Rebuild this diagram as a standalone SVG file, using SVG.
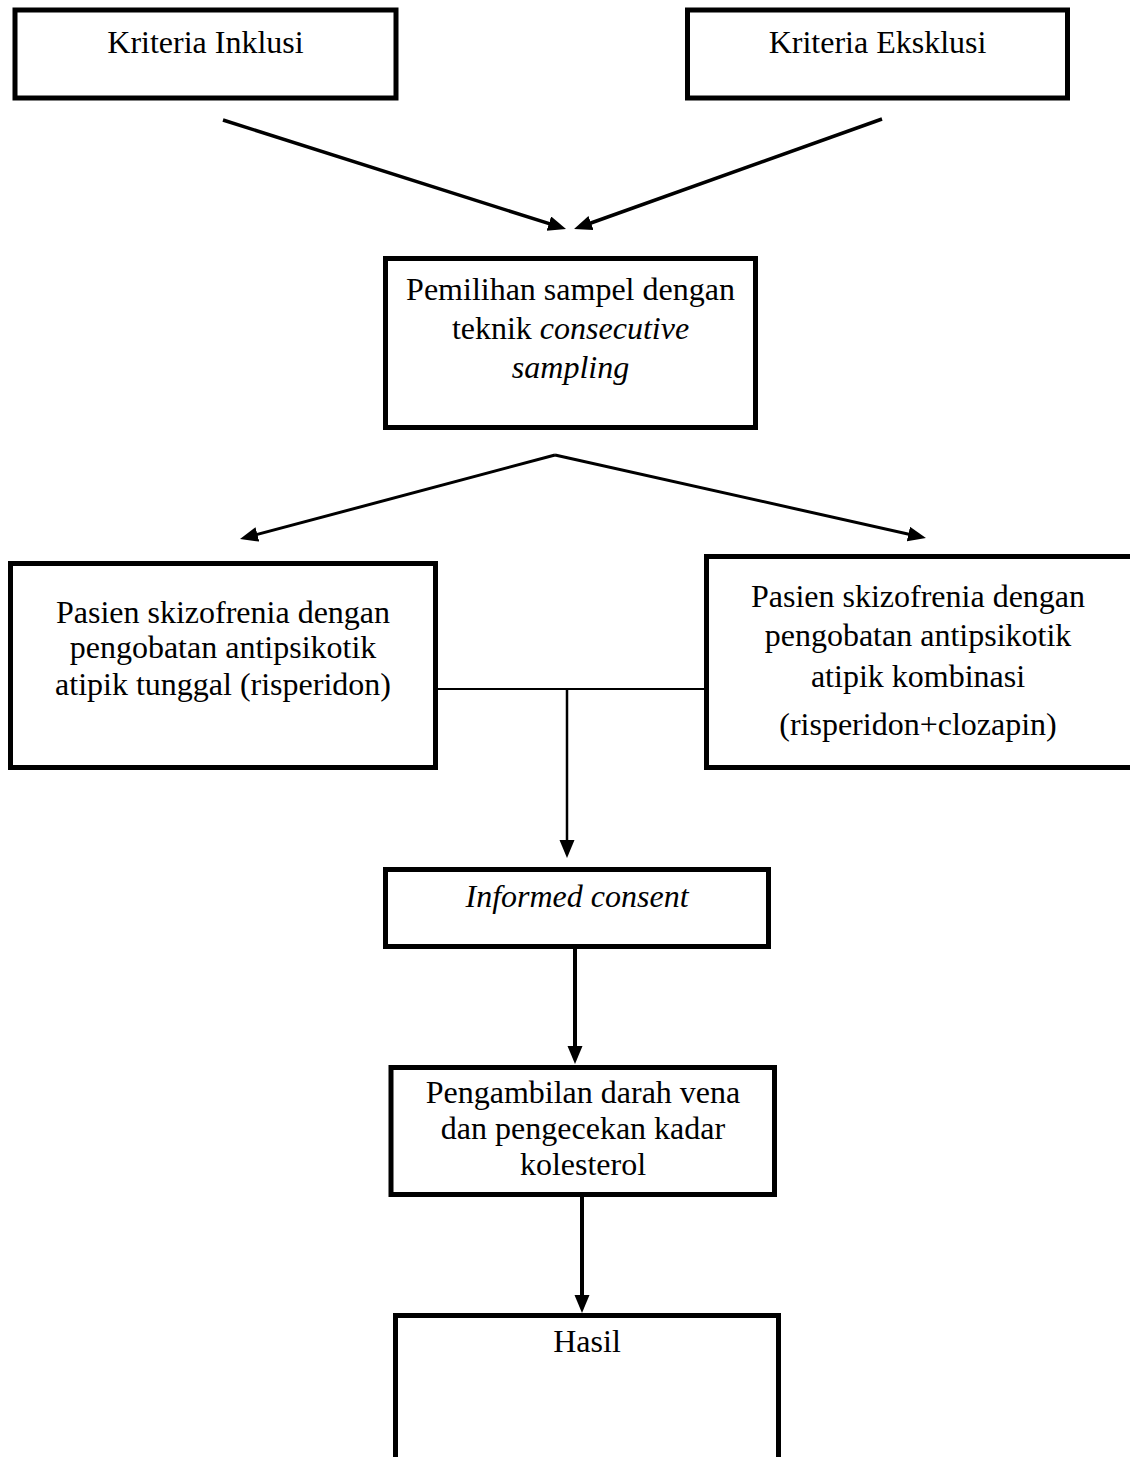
<svg xmlns="http://www.w3.org/2000/svg" width="1130" height="1457" viewBox="0 0 1130 1457">
<style>
.box{fill:#fff;stroke:#000;stroke-width:5}
.t{font-family:"Liberation Serif","Times New Roman",serif;font-size:32px;fill:#000;text-anchor:middle}
.i{font-style:italic}
.c{stroke:#000;fill:none;stroke-linecap:butt}
</style>
<defs>
<marker id="ah" markerUnits="userSpaceOnUse" markerWidth="20" markerHeight="16" refX="12" refY="7.5" orient="auto" viewBox="0 0 20 16">
<path d="M0,0 L18,7.5 L0,15 z" fill="#000"/>
</marker>
</defs>
<g id="connectors">
<line class="c" x1="223" y1="120" x2="560.3" y2="227.2" stroke-width="3.5" marker-end="url(#ah)"/>
<line class="c" x1="882" y1="119" x2="579.7" y2="227" stroke-width="3.5" marker-end="url(#ah)"/>
<line class="c" x1="555" y1="455" x2="245.8" y2="537.5" stroke-width="3" marker-end="url(#ah)"/>
<line class="c" x1="555" y1="455" x2="920.1" y2="536.7" stroke-width="3" marker-end="url(#ah)"/>
<line class="c" x1="438" y1="689" x2="704" y2="689" stroke-width="2"/>
<line class="c" x1="567" y1="689" x2="567" y2="852" stroke-width="2.5" marker-end="url(#ah)"/>
<line class="c" x1="575" y1="949" x2="575" y2="1058" stroke-width="4" marker-end="url(#ah)"/>
<line class="c" x1="582" y1="1197" x2="582" y2="1307" stroke-width="4" marker-end="url(#ah)"/>
</g>
<g id="inklusi">
<rect class="box" x="15" y="10" width="381" height="88"/>
<text class="t" x="205.5" y="53">Kriteria Inklusi</text>
</g>
<g id="eksklusi">
<rect class="box" x="687.5" y="10" width="380" height="88"/>
<text class="t" x="877.5" y="53">Kriteria Eksklusi</text>
</g>
<g id="pemilihan">
<rect class="box" x="385.5" y="258.5" width="370" height="169"/>
<text class="t" x="570.5" y="300">Pemilihan sampel dengan</text>
<text class="t" x="570.5" y="339">teknik <tspan class="i">consecutive</tspan></text>
<text class="t i" x="570.5" y="378">sampling</text>
</g>
<g id="tunggal">
<rect class="box" x="10.5" y="563.5" width="425" height="204"/>
<text class="t" x="223" y="623">Pasien skizofrenia dengan</text>
<text class="t" x="223" y="658">pengobatan antipsikotik</text>
<text class="t" x="223" y="695">atipik tunggal (risperidon)</text>
</g>
<g id="kombinasi">
<rect class="box" x="706.5" y="556.5" width="427.5" height="211"/>
<text class="t" x="918" y="607">Pasien skizofrenia dengan</text>
<text class="t" x="918" y="646">pengobatan antipsikotik</text>
<text class="t" x="918" y="687">atipik kombinasi</text>
<text class="t" x="918" y="735">(risperidon+clozapin)</text>
</g>
<g id="informed">
<rect class="box" x="385.5" y="869.5" width="383" height="77"/>
<text class="t i" x="577" y="907">Informed consent</text>
</g>
<g id="pengambilan">
<rect class="box" x="391" y="1067.5" width="383.5" height="127"/>
<text class="t" x="583" y="1103">Pengambilan darah vena</text>
<text class="t" x="583" y="1139">dan pengecekan kadar</text>
<text class="t" x="583" y="1175">kolesterol</text>
</g>
<g id="hasil">
<rect class="box" x="395.5" y="1315.5" width="383" height="200"/>
<text class="t" x="587" y="1352">Hasil</text>
</g>
</svg>
